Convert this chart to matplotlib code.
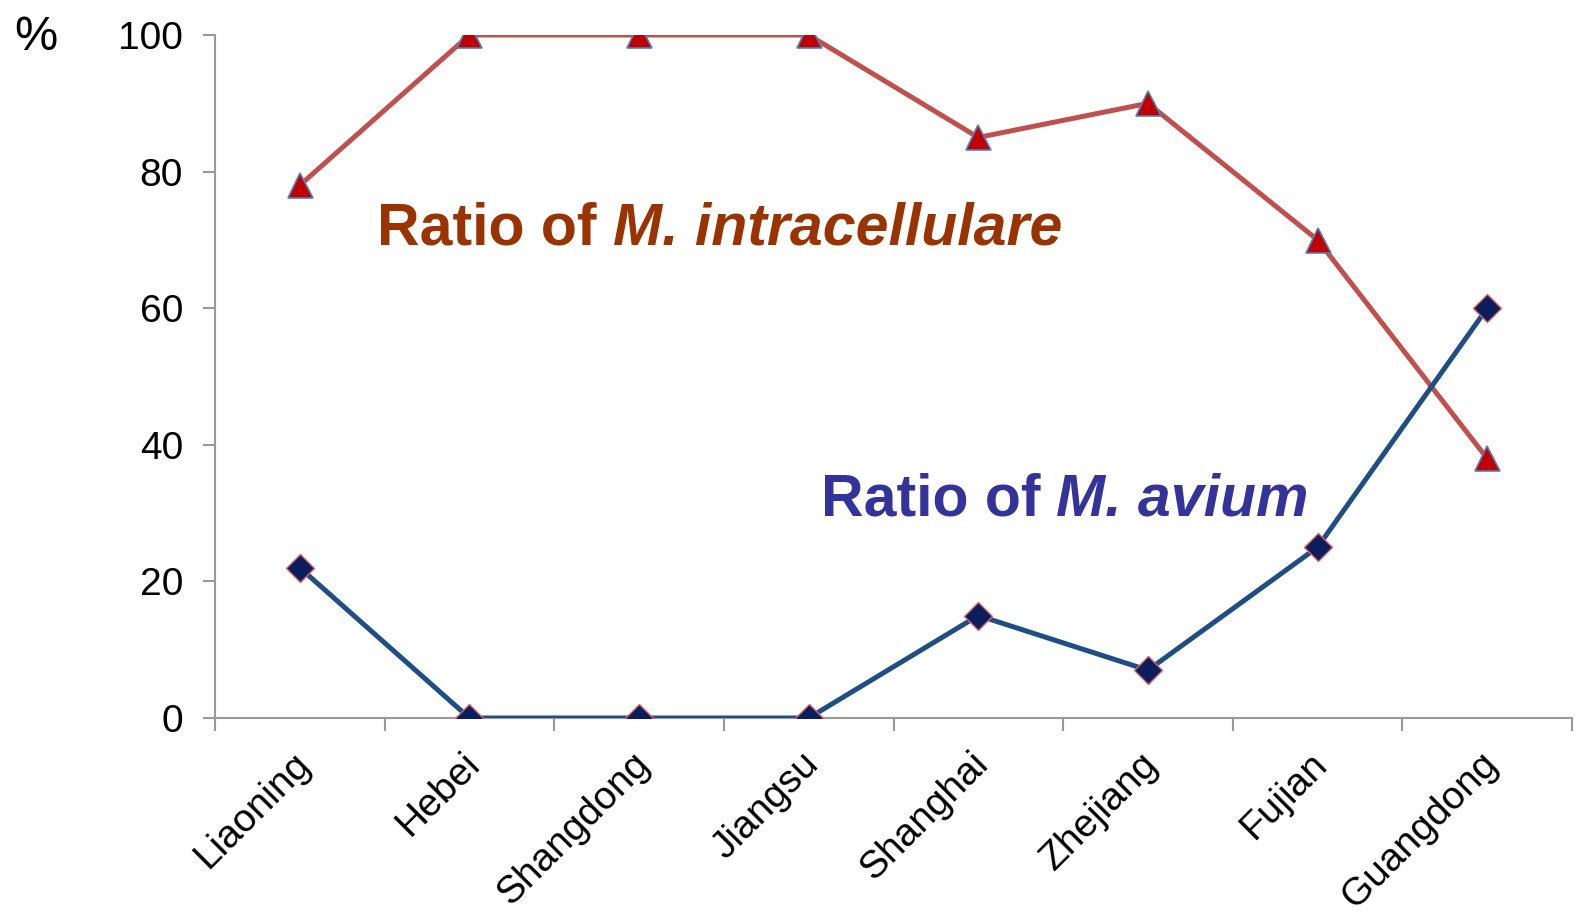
import matplotlib.pyplot as plt
import matplotlib.transforms as mtransforms
import numpy as np

# provinces and the share of each species (%)
provinces = ["Liaoning", "Hebei", "Shangdong", "Jiangsu",
             "Shanghai", "Zhejiang", "Fujian", "Guangdong"]
intracellulare = [78, 100, 100, 100, 85, 90, 70, 38]
avium = [22, 0, 0, 0, 15, 7, 25, 60]

FONT = "Liberation Sans"
plt.rcParams["font.family"] = [FONT, "DejaVu Sans"]

fig = plt.figure(figsize=(15.76, 9.18), dpi=100)
ax = fig.add_axes([215 / 1576, 200 / 918, 1357 / 1576, 683 / 918])

x = np.arange(len(provinces))
ax.plot(x, intracellulare, color="#C0504D", lw=3.6, marker="^", ms=18,
        markerfacecolor="#C00000", markeredgecolor="#4F81BD", markeredgewidth=1.2,
        zorder=3)
ax.plot(x, avium, color="#1F4E84", lw=3.6, marker="D", ms=14,
        markerfacecolor="#0A1E5E", markeredgecolor="#E06060", markeredgewidth=1.0,
        zorder=4)

ax.set_xlim(-0.5, len(provinces) - 0.5)
ax.set_ylim(0, 100)
ax.set_yticks([0, 20, 40, 60, 80, 100])
ax.set_xticks(np.arange(-0.5, len(provinces), 1.0))
ax.set_xticklabels([])
ax.set_xticks(x, minor=True)
ax.set_xticklabels(provinces, minor=True, rotation=45, ha="right",
                   rotation_mode="anchor", fontsize=28)
ax.tick_params(axis="x", which="minor", length=0, pad=20)
ax.tick_params(axis="x", which="major", length=9, width=1.5, color="#999999")
ax.tick_params(axis="y", length=9, width=1.5, color="#999999", labelsize=28, pad=14)

# nudge the slanted province names a little left
shift = mtransforms.ScaledTranslation(-8 / 100, 0, fig.dpi_scale_trans)
for lbl in ax.get_xticklabels(minor=True):
    lbl.set_transform(lbl.get_transform() + shift)

for s in ["top", "right"]:
    ax.spines[s].set_visible(False)
for s in ["left", "bottom"]:
    ax.spines[s].set_color("#999999")
    ax.spines[s].set_linewidth(1.5)

fig.text(14 / 1576, 1 - 50 / 918, "%", fontsize=35)

# series captions, plain part then italic species name
t1 = ax.text(0.455, 69.3, "Ratio of ", fontsize=42.5, fontweight="bold", color="#993300")
ax.annotate("M. intracellulare", xy=(1, 0), xycoords=t1, fontsize=42.5,
            fontweight="bold", fontstyle="italic", color="#993300", va="bottom")
t2 = ax.text(3.07, 29.6, "Ratio of ", fontsize=42.5, fontweight="bold", color="#333399")
ax.annotate("M. avium", xy=(1, 0), xycoords=t2, fontsize=42.5,
            fontweight="bold", fontstyle="italic", color="#333399", va="bottom")

fig.savefig("out.png", dpi=100)
